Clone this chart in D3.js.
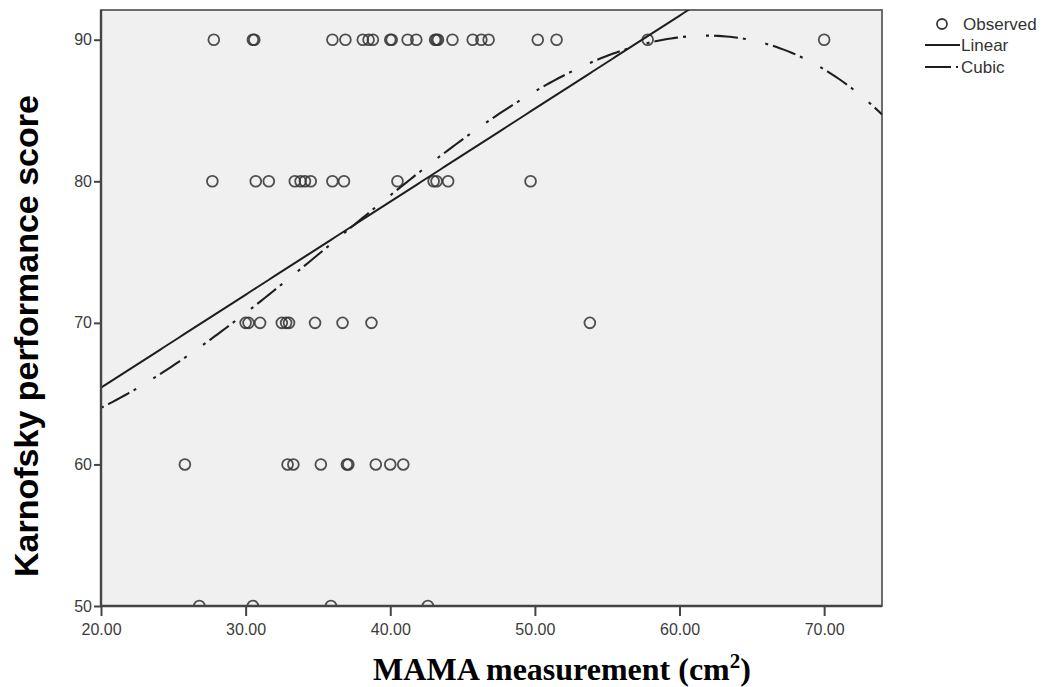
<!DOCTYPE html>
<html>
<head>
<meta charset="utf-8">
<script src="https://cdn.jsdelivr.net/npm/d3@7"></script>
<style>
  body { margin: 0; background: #fff; }
  svg { display: block; }
</style>
</head>
<body>
<svg id="chart" width="1058" height="687"></svg>
<script>
// Observed MAMA measurements (cm²), grouped by Karnofsky performance score
const scoreLevels = [90, 80, 70, 60, 50];
const mama90 = [27.8, 30.5, 30.6, 36.0, 36.9, 38.1, 38.5, 38.8, 40.0, 40.1, 41.2, 41.8, 43.1, 43.2, 43.3, 44.3, 45.7, 46.3, 46.8, 50.2, 51.5, 57.8, 70.0];
const mama80 = [27.7, 30.7, 31.6, 33.4, 33.8, 34.1, 34.5, 36.0, 36.8, 40.5, 43.0, 43.2, 44.0, 49.7];
const mama70 = [30.0, 30.2, 31.0, 32.5, 32.8, 33.0, 34.8, 36.7, 38.7, 53.8];
const mama60 = [25.8, 32.9, 33.3, 35.2, 37.0, 37.1, 39.0, 40.0, 40.9];
const mama50 = [26.8, 30.5, 35.9, 42.6];

// Fitted models: score = c0 + c1·x (+ c2·x² + c3·x³)
const linearCoef = [52.28, 0.657];
const cubicCoef = [65.672, -0.84242, 0.046489, -0.00042738];

const xTicks = [20, 30, 40, 50, 60, 70];
const yTicks = [50, 60, 70, 80, 90];
const xDomain = [20, 74.0];
const yDomain = [50, 92.1];

const legendItems = ["Observed", "Linear", "Cubic"];
const xTitle = "MAMA measurement (cm";
const yTitle = "Karnofsky performance score";

const svg = d3.select("#chart");
const plot = { left: 101, top: 10, right: 882, bottom: 606 };

const x = d3.scaleLinear().domain(xDomain).range([plot.left, plot.right]);
const y = d3.scaleLinear().domain(yDomain).range([plot.bottom, plot.top]);

const groups = [mama90, mama80, mama70, mama60, mama50];
const observed = scoreLevels.flatMap((s, i) => groups[i].map(m => ({ mama: m, score: s })));

// plot background
svg.append("rect")
  .attr("x", plot.left).attr("y", plot.top)
  .attr("width", plot.right - plot.left).attr("height", plot.bottom - plot.top)
  .attr("fill", "#f0f0f0").attr("stroke", "#5e5e5e").attr("stroke-width", 1.8);

svg.append("clipPath").attr("id", "plotClip")
  .append("rect")
  .attr("x", plot.left).attr("y", plot.top)
  .attr("width", plot.right - plot.left).attr("height", plot.bottom - plot.top);

const inner = svg.append("g").attr("clip-path", "url(#plotClip)");

// observed points
inner.selectAll("circle.obs")
  .data(observed)
  .join("circle")
  .attr("class", "obs")
  .attr("cx", d => x(d.mama))
  .attr("cy", d => y(d.score))
  .attr("r", 5.4)
  .attr("fill", "none")
  .attr("stroke", "#333")
  .attr("stroke-width", 1.8)
  .attr("stroke-opacity", 0.85);

const poly = (coef, v) => coef.reduce((acc, c, k) => acc + c * Math.pow(v, k), 0);
const samples = d3.range(0, 201).map(i => xDomain[0] + (xDomain[1] - xDomain[0]) * i / 200);
const line = d3.line().x(d => x(d[0])).y(d => y(d[1]));

// linear fit
inner.append("path")
  .attr("d", line(samples.map(v => [v, poly(linearCoef, v)])))
  .attr("fill", "none").attr("stroke", "#1e1e1e").attr("stroke-width", 2);

// cubic fit
inner.append("path")
  .attr("d", line(samples.map(v => [v, poly(cubicCoef, v)])))
  .attr("fill", "none").attr("stroke", "#1e1e1e").attr("stroke-width", 2.1)
  .attr("stroke-dasharray", "3,5,24,5,3,20");

// axes
const tickFont = "Arial, 'Liberation Sans', sans-serif";
const yAxis = svg.append("g")
  .attr("transform", `translate(${plot.left},0)`)
  .call(d3.axisLeft(y).tickValues(yTicks).tickFormat(d3.format("d")).tickSize(7).tickPadding(2));
const xAxis = svg.append("g")
  .attr("transform", `translate(0,${plot.bottom})`)
  .call(d3.axisBottom(x).tickValues(xTicks).tickFormat(d3.format(".2f")).tickSize(10).tickPadding(8));

[yAxis, xAxis].forEach(a => {
  a.select(".domain").remove();
  a.selectAll(".tick line").attr("stroke", "#444").attr("stroke-width", 2);
  a.selectAll(".tick text")
    .attr("fill", "#3c3c3c")
    .style("font-family", tickFont)
    .style("font-size", "16px");
});

// left and bottom axis lines
svg.append("line")
  .attr("x1", plot.left).attr("x2", plot.left)
  .attr("y1", plot.top).attr("y2", plot.bottom)
  .attr("stroke", "#444").attr("stroke-width", 2.4);
svg.append("line")
  .attr("x1", plot.left).attr("x2", plot.right)
  .attr("y1", plot.bottom).attr("y2", plot.bottom)
  .attr("stroke", "#444").attr("stroke-width", 2.4);

// axis titles
const xt = svg.append("text")
  .attr("x", 562).attr("y", 680)
  .attr("text-anchor", "middle")
  .style("font-family", "'Times New Roman', 'Liberation Serif', serif")
  .style("font-weight", "bold")
  .style("font-size", "32px")
  .attr("fill", "#000");
xt.append("tspan").text(xTitle);
xt.append("tspan").attr("dy", -12).style("font-size", "21px").text("2");
xt.append("tspan").attr("dy", 12).text(")");

svg.append("text")
  .attr("transform", "translate(38,336) rotate(-90)")
  .attr("text-anchor", "middle")
  .style("font-family", "Arial, 'Liberation Sans', sans-serif")
  .style("font-weight", "bold")
  .style("font-size", "34px")
  .attr("fill", "#000")
  .text(yTitle);

// legend
const legend = svg.append("g")
  .style("font-family", tickFont)
  .style("font-size", "17px")
  .attr("fill", "#333");
const rowY = [24, 45, 67];
legend.append("circle")
  .attr("cx", 942).attr("cy", rowY[0]).attr("r", 5)
  .attr("fill", "none").attr("stroke", "#3a3a3a").attr("stroke-width", 1.8);
legend.append("line")
  .attr("x1", 925).attr("x2", 960).attr("y1", rowY[1]).attr("y2", rowY[1])
  .attr("stroke", "#1e1e1e").attr("stroke-width", 2);
legend.append("line")
  .attr("x1", 925).attr("x2", 960).attr("y1", rowY[2]).attr("y2", rowY[2])
  .attr("stroke", "#1e1e1e").attr("stroke-width", 2)
  .attr("stroke-dasharray", "26,5,2,6");
legend.selectAll("text.item")
  .data(legendItems)
  .join("text")
  .attr("class", "item")
  .attr("x", (d, i) => i === 0 ? 963 : 961)
  .attr("y", (d, i) => rowY[i] + 6)
  .text(d => d);
</script>
</body>
</html>
